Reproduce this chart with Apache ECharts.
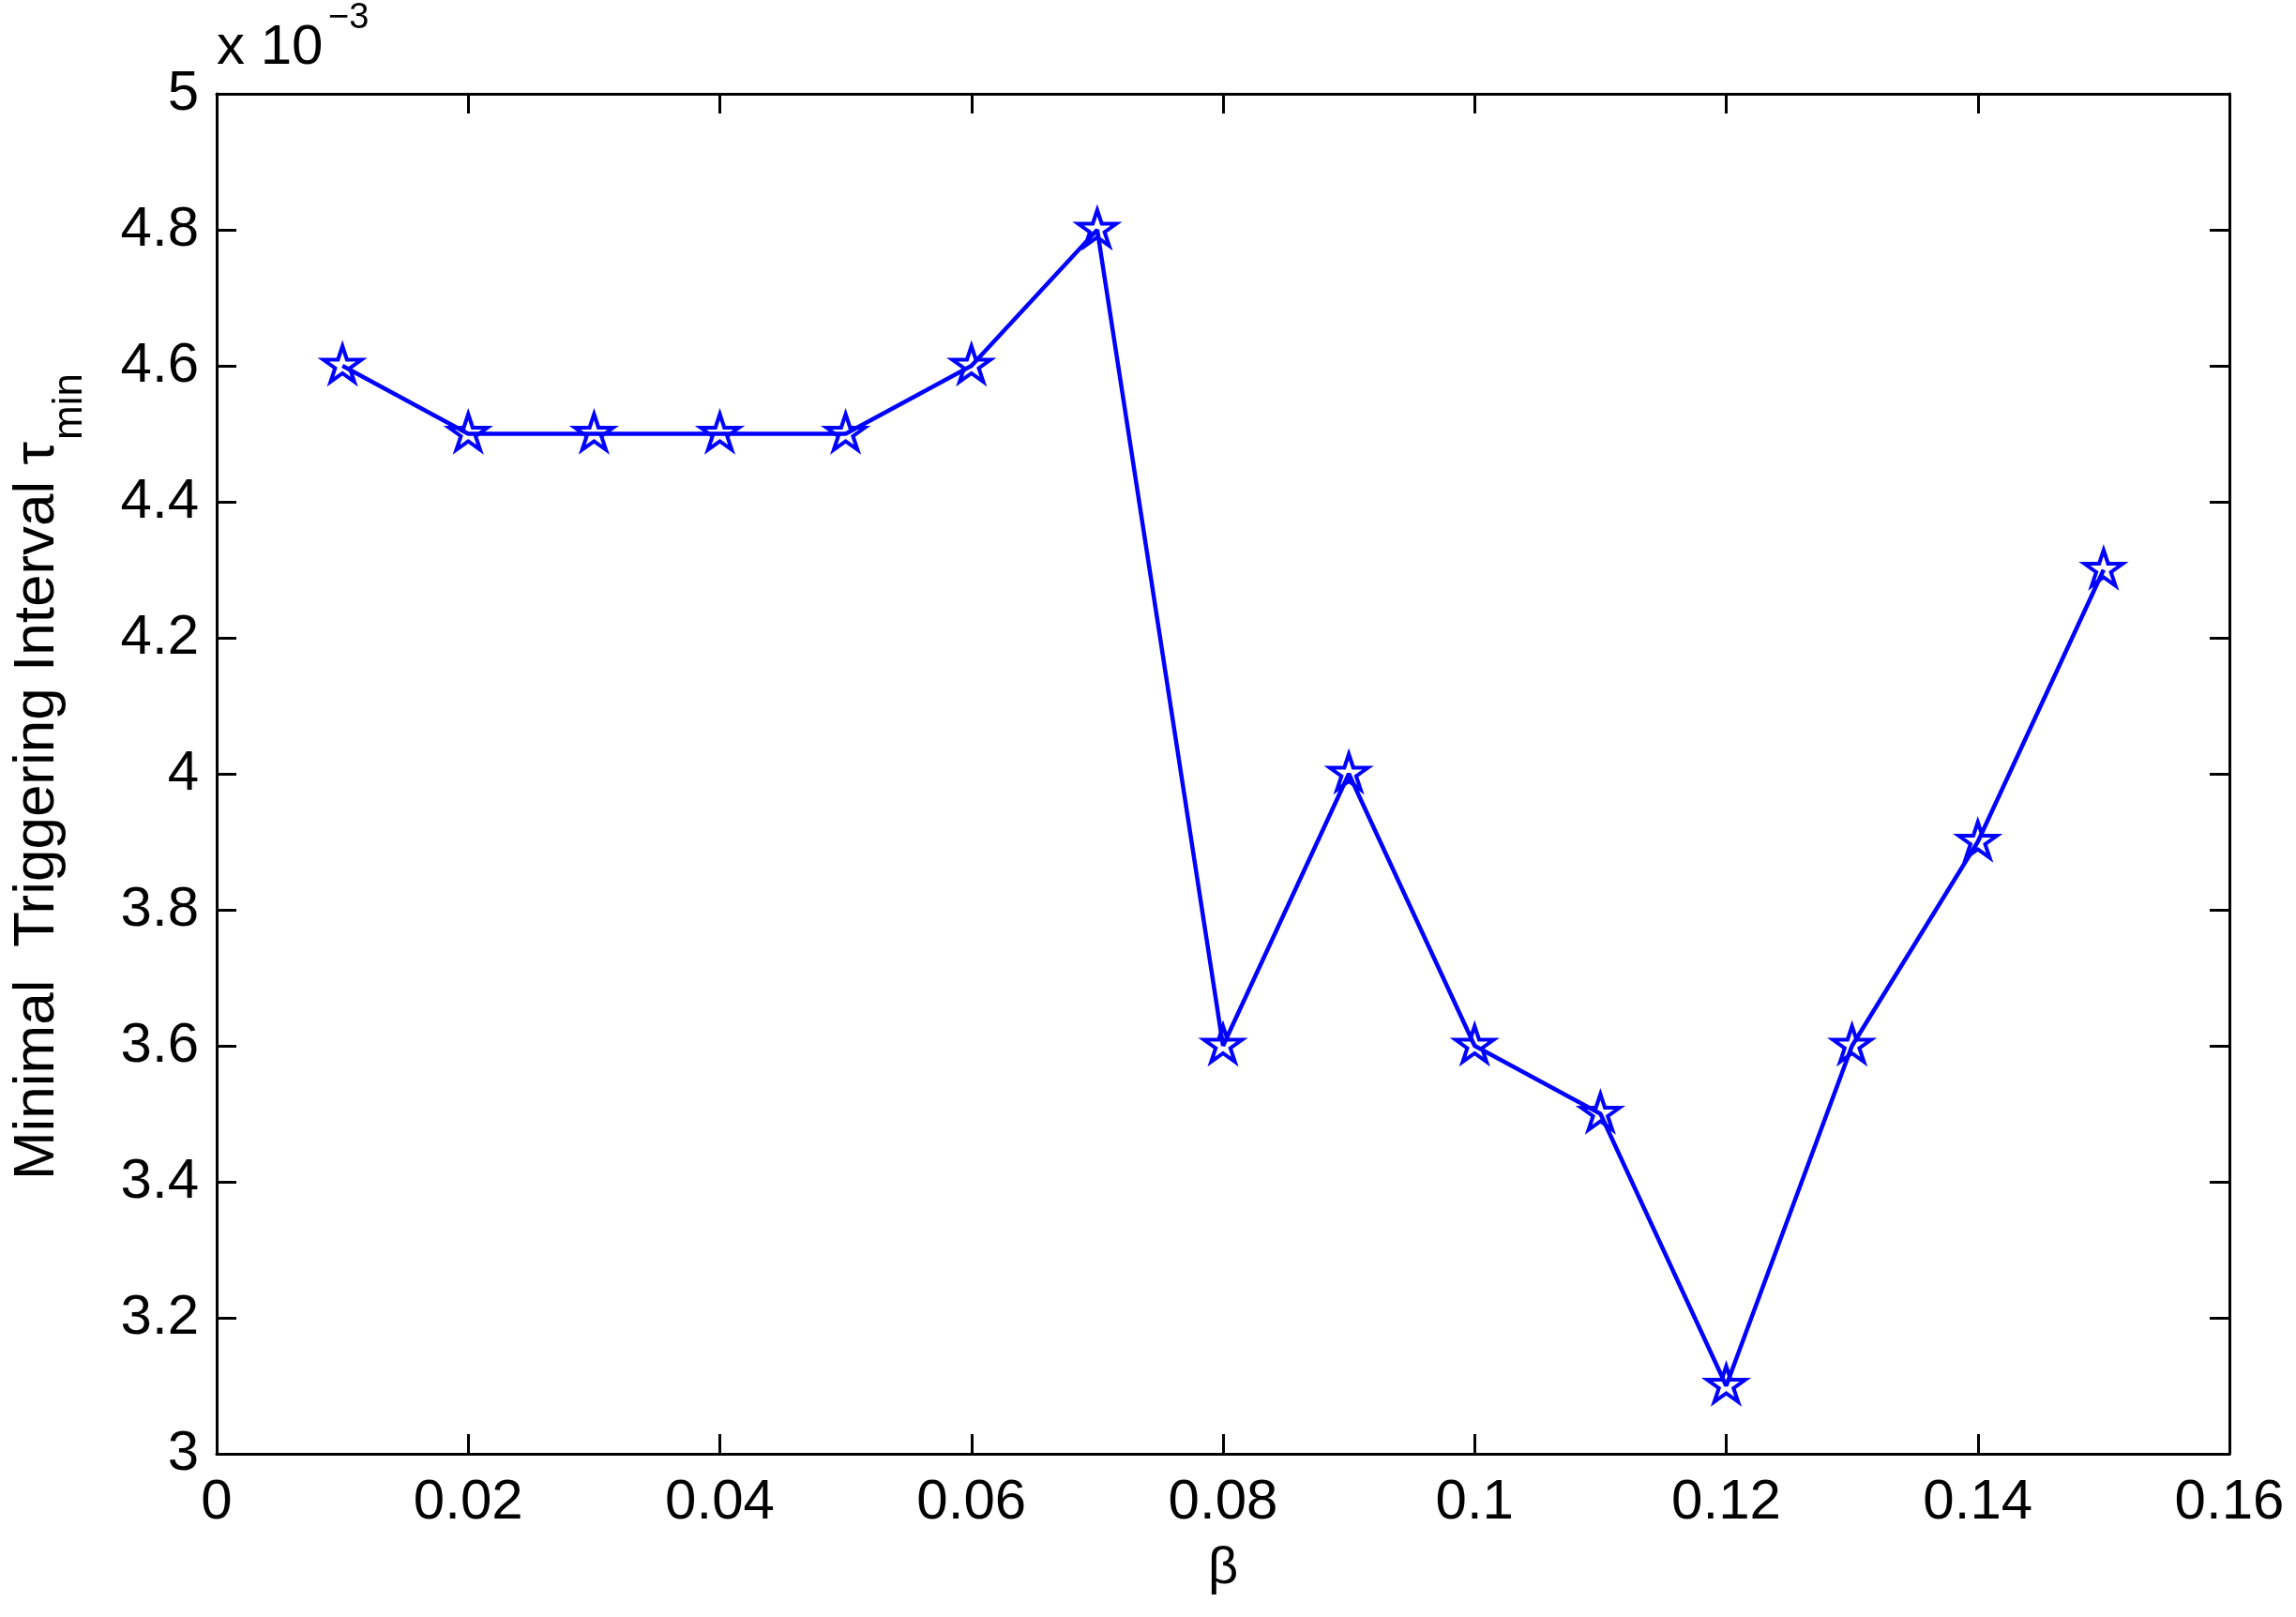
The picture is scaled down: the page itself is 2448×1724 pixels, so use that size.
<!DOCTYPE html>
<html lang="en" style="height: 100%">
<head>
  <meta charset="utf-8">
  <title>Minimal triggering interval vs beta</title>
</head>
<body style="height: 100%; margin: 0; background: #fff">
  <div id="container" style="height: 100%"></div>
  <script type="text/javascript" src="https://fastly.jsdelivr.net/npm/echarts@6.0.0/dist/echarts.min.js"></script>

  <script type="text/javascript">
    // beta values on the x axis
    const betaValues = [0.01, 0.02, 0.03, 0.04, 0.05, 0.06, 0.07, 0.08, 0.09, 0.1, 0.11, 0.12, 0.13, 0.14, 0.15];
    // tau_min, in units of 1e-3
    const tauMin = [4.6, 4.5, 4.5, 4.5, 4.5, 4.6, 4.8, 3.6, 4.0, 3.6, 3.5, 3.1, 3.6, 3.9, 4.3];

    const xRange = [0, 0.16, 0.02];
    const yRange = [3, 5, 0.2];

    const FONT = 'Liberation Sans';
    const BLUE = '#0000ff';

    // five-point star, like matlab's pentagram marker
    const STAR = 'path://M50,0 L61.2,34.5 L97.6,34.5 L68.2,55.9 L79.4,90.5 L50,69.1 L20.6,90.5 L31.8,55.9 L2.4,34.5 L38.8,34.5 Z';

    var dom = document.getElementById('container');
    var myChart = echarts.init(dom, null, { renderer: 'canvas' });

    const lineData = betaValues.map((b, i) => [b, tauMin[i]]);

    function axisBase(range) {
      return {
        type: 'value',
        min: range[0],
        max: range[1],
        interval: range[2],
        splitLine: { show: false },
        axisLine: { show: true, onZero: false, lineStyle: { color: '#000', width: 3 } },
        axisTick: { show: true, inside: true, length: 21, lineStyle: { color: '#000', width: 3 } }
      };
    }

    var option = {
      animation: false,
      backgroundColor: '#fff',
      grid: { left: 231, top: 100, right: 71, bottom: 174 },
      xAxis: [
        Object.assign(axisBase(xRange), {
          position: 'bottom',
          name: 'β',
          nameLocation: 'middle',
          nameGap: 95,
          nameTextStyle: { fontFamily: FONT, fontSize: 56, color: '#000' },
          axisLabel: { margin: 22, fontFamily: FONT, fontSize: 60, color: '#000' }
        }),
        Object.assign(axisBase(xRange), {
          position: 'top',
          axisLabel: { show: false }
        })
      ],
      yAxis: [
        Object.assign(axisBase(yRange), {
          position: 'left',
          axisLabel: { margin: 19, fontFamily: FONT, fontSize: 60, color: '#000' }
        }),
        Object.assign(axisBase(yRange), {
          position: 'right',
          axisLabel: { show: false }
        })
      ],
      graphic: [
        {
          type: 'text', x: 231, y: 51,
          style: { text: 'x 10', font: '60px "Liberation Sans"', fill: '#000', verticalAlign: 'middle', align: 'left' }
        },
        {
          type: 'text', x: 350, y: 20,
          style: { text: '\u22123', font: '38px "Liberation Sans"', fill: '#000', verticalAlign: 'middle', align: 'left' }
        },
        {
          type: 'text', x: 40, y: 471, rotation: Math.PI / 2,
          style: { text: 'Minimal  Triggering Interval τ', font: '62px "Liberation Sans"', fill: '#000', verticalAlign: 'middle', align: 'right' }
        },
        {
          type: 'text', x: 75, y: 469, rotation: Math.PI / 2,
          style: { text: 'min', font: '44px "Liberation Sans"', fill: '#000', verticalAlign: 'middle', align: 'left' }
        }
      ],
      series: [
        {
          type: 'line',
          data: lineData,
          symbol: STAR,
          symbolSize: [41, 38],
          symbolOffset: [0, -2],
          showAllSymbol: true,
          lineStyle: { color: BLUE, width: 4.5 },
          itemStyle: { color: 'rgba(0,0,0,0)', borderColor: BLUE, borderWidth: 4 },
          emphasis: { disabled: true }
        }
      ]
    };

    myChart.setOption(option);
    window.addEventListener('resize', myChart.resize);
  </script>
</body>
</html>
